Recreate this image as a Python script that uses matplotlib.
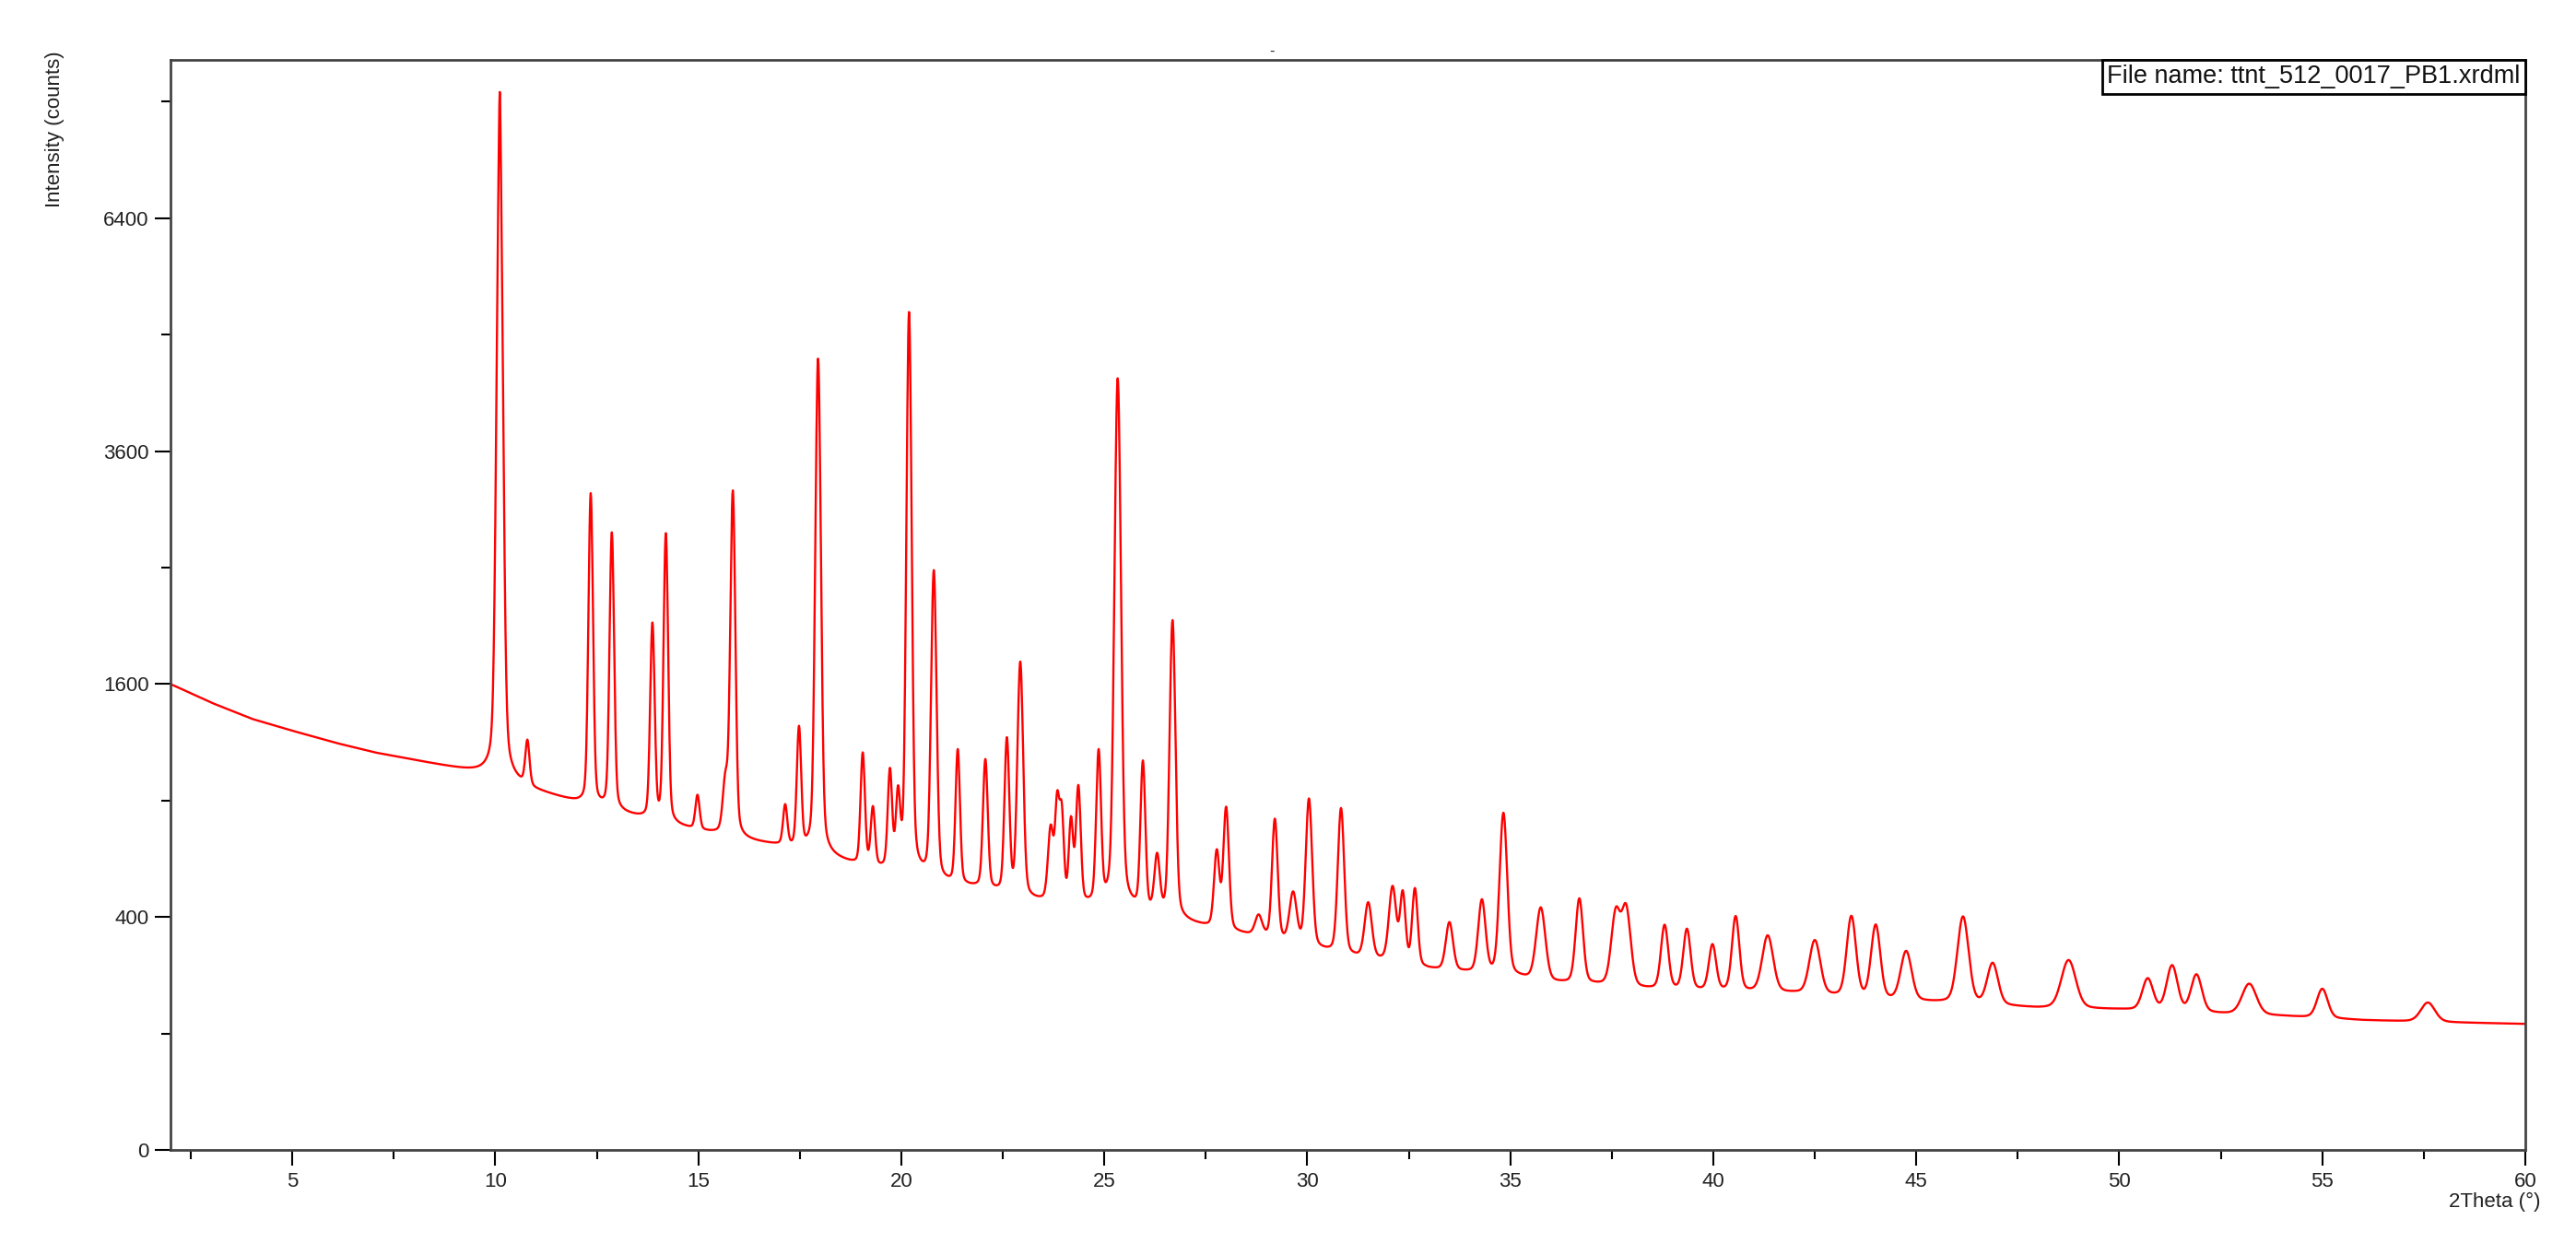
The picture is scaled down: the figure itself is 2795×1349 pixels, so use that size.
import numpy as np
import matplotlib
matplotlib.use("Agg")
import matplotlib.pyplot as plt
from matplotlib.offsetbox import AnchoredText

plt.rcParams["font.family"] = ["Liberation Sans Narrow", "Liberation Sans", "DejaVu Sans"]

# background level (2theta, counts)
bg_pos = [2, 3, 4, 5, 6, 7, 8, 9, 10, 11, 12, 13, 14, 15, 16, 17, 18, 19, 20,
          21, 22, 23, 24, 25, 26, 27, 28, 29, 30, 31, 32, 33, 34, 35, 36, 37,
          38, 40, 42, 44, 46, 48, 50, 52, 54, 56, 58, 60]
bg_val = [1600, 1475, 1370, 1295, 1225, 1165, 1120, 1075, 1030, 950, 890, 840,
          790, 750, 710, 680, 640, 590, 560, 520, 500, 460, 440, 430, 410, 380,
          350, 330, 300, 275, 260, 240, 230, 220, 205, 200, 190, 185, 180, 165,
          158, 148, 145, 138, 132, 124, 120, 117]

# reflections: position (deg 2theta), apex counts, FWHM (deg)
pk_pos = [10.11, 10.11, 10.79, 12.35, 12.87, 13.87, 14.20, 14.98, 15.67, 15.85,
          17.14, 17.48, 17.95, 19.05, 19.30, 19.72, 19.92, 20.19, 20.80, 21.39,
          22.07, 22.60, 22.93, 23.68, 23.84, 23.95, 24.18, 24.36, 24.86, 25.33,
          25.95, 26.30, 26.68, 27.77, 28.00, 28.80, 29.20, 29.65, 30.04, 30.83,
          31.50, 32.10, 32.35, 32.65, 33.50, 34.30, 34.83, 35.75, 36.70, 37.60,
          37.85, 38.80, 39.35, 39.98, 40.55, 41.34, 42.50, 43.40, 44.00, 44.75,
          46.15, 46.88, 48.75, 50.70, 51.30, 51.90, 53.20, 55.00, 57.60]
pk_top = [7550, 8250, 1217, 3170, 2800, 2030, 2790, 920, 980, 3190,
          866, 1300, 4610, 1150, 850, 1040, 900, 5160, 2460, 1170,
          1115, 1233, 1745, 750, 866, 816, 784, 956, 1150, 4380,
          1093, 621, 2060, 649, 857, 400, 802, 480, 904, 857,
          446, 505, 480, 498, 379, 456, 834, 430, 463, 410,
          424, 370, 357, 308, 400, 337, 322, 400, 370, 289,
          400, 255, 265, 215, 249, 225, 203, 191, 160]
pk_fwhm = [0.16, 0.04, 0.12, 0.12, 0.12, 0.12, 0.12, 0.12, 0.15, 0.13,
           0.12, 0.12, 0.14, 0.12, 0.12, 0.12, 0.12, 0.13, 0.14, 0.12,
           0.13, 0.13, 0.15, 0.15, 0.12, 0.12, 0.12, 0.13, 0.13, 0.16,
           0.13, 0.15, 0.15, 0.15, 0.15, 0.20, 0.15, 0.20, 0.17, 0.17,
           0.20, 0.20, 0.15, 0.15, 0.20, 0.20, 0.20, 0.25, 0.20, 0.25,
           0.25, 0.20, 0.20, 0.20, 0.20, 0.30, 0.30, 0.25, 0.25, 0.30,
           0.30, 0.30, 0.40, 0.30, 0.30, 0.30, 0.40, 0.30, 0.40]

tth = np.arange(2.0, 60.0001, 0.01)
counts = np.interp(tth, bg_pos, bg_val)
base_top = None
for p, top, w in zip(pk_pos, pk_top, pk_fwhm):
    if base_top is not None and p == pk_pos[0]:
        h = top - base_top  # sharp tip sitting on the strongest reflection
    else:
        h = top - np.interp(p, bg_pos, bg_val)
    if base_top is None:
        base_top = top
    d = (tth - p) / (w / 2)
    gauss = np.exp(-np.log(2) * d ** 2)
    lor = 1 / (1 + d ** 2)
    counts = counts + h * (0.75 * gauss + 0.25 * lor)

fig = plt.figure(figsize=(27.95, 13.49), dpi=100)
ax = fig.add_axes([185 / 2795, 1 - 1248 / 1349, (2740 - 185) / 2795, (1248 - 65) / 1349])
ax.set_yscale("function", functions=(lambda y: np.sqrt(np.clip(y, 0, None)), np.square))
ax.plot(tth, counts, color="#ff0000", lw=1.7)

ax.set_xlim(2, 60)
ax.set_ylim(0, 8760)
ax.set_xticks([5, 10, 15, 20, 25, 30, 35, 40, 45, 50, 55, 60])
ax.set_xticks(np.arange(2.5, 60, 5), minor=True)
ax.set_yticks([0, 400, 1600, 3600, 6400])
ax.set_yticks([100, 900, 2500, 4900, 8100], minor=True)
ax.set_yticklabels(["0", "400", "1600", "3600", "6400"])
ax.tick_params(which="major", direction="out", length=12, width=1.5, labelsize=16,
               colors="black", labelcolor="#222222", pad=5)
ax.tick_params(which="minor", direction="out", length=7.5, width=1.5)
for s in ax.spines.values():
    s.set_color("#444444")
    s.set_linewidth(2)

fig.text(60 / 2795, 1 - 55 / 1349, "Intensity (counts)", rotation=90, ha="center",
         va="top", fontsize=16, color="#222222")
fig.text(2707 / 2795, 1 - 1304 / 1349, "2Theta (°)", ha="center", va="center",
         fontsize=16, color="#222222")
fig.text(1380 / 2795, 1 - 61 / 1349, "-", ha="center", va="baseline", fontsize=12,
         color="#222222")

at = AnchoredText("File name: ttnt_512_0017_PB1.xrdml", loc="upper right",
                  frameon=True, borderpad=0, pad=0.2,
                  prop=dict(size=19.5, color="#111111"))
at.patch.set_edgecolor("black")
at.patch.set_linewidth(2)
at.patch.set_boxstyle("square,pad=0")
ax.add_artist(at)

fig.savefig("out.png", dpi=100)
